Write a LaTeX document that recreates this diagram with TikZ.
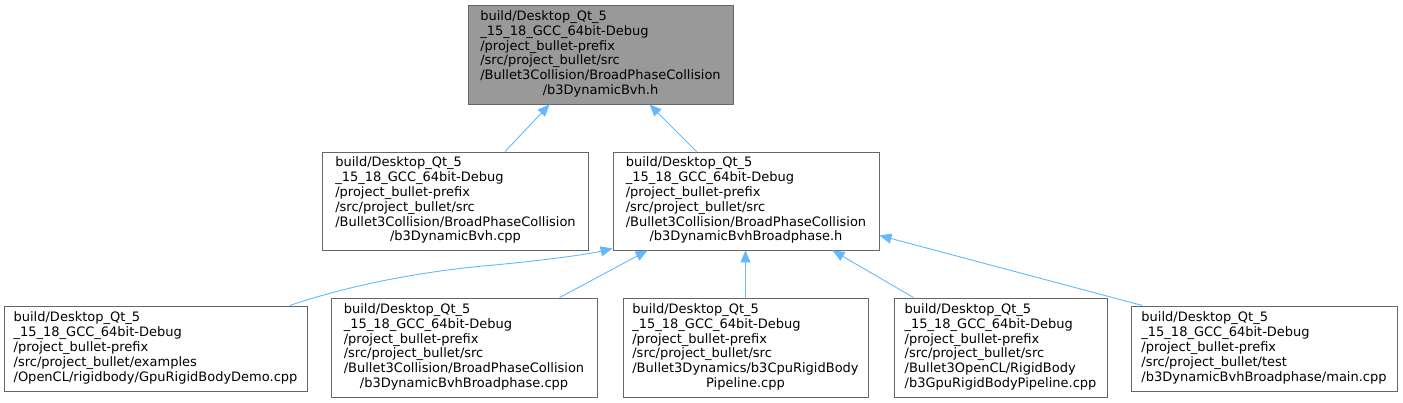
\documentclass[tikz,border=0pt]{standalone}
\usepackage{fontspec}
\usetikzlibrary{arrows.meta,calc}
\newfontfamily\dvsans{DejaVu Sans}
\definecolor{boxgray}{HTML}{666666}
\definecolor{topfill}{HTML}{999999}
\definecolor{edgeblue}{HTML}{63B8FF}
\newcommand{\lastc}[1]{\multicolumn{1}{@{}c@{}}{#1}}
\tikzset{
  box/.style={draw=boxgray, line width=0.9pt, fill=white, inner sep=0pt,
    font=\dvsans\fontsize{13}{14.8}\selectfont, text=black},
  topbox/.style={box, fill=topfill},
  edge/.style={draw=edgeblue, line width=0.9pt, -{Triangle[length=12pt,width=10pt]}}
}
\begin{document}
\begin{tikzpicture}[x=1pt,y=-1pt]
\useasboundingbox (0,0) rectangle (1403,403);
\node[topbox, minimum width=265, minimum height=99] (top) at (600.5,54.5)
 {\begin{tabular}{@{}l@{}}build/Desktop\_Qt\_5\\ \_15\_18\_GCC\_64bit-Debug\\ /project\_bullet-prefix\\ /src/project\_bullet/src\\ /Bullet3Collision/BroadPhaseCollision\\ \lastc{/b3DynamicBvh.h}\end{tabular}};
\node[box, minimum width=266, minimum height=98] (ml) at (455.5,201)
 {\begin{tabular}{@{}l@{}}build/Desktop\_Qt\_5\\ \_15\_18\_GCC\_64bit-Debug\\ /project\_bullet-prefix\\ /src/project\_bullet/src\\ /Bullet3Collision/BroadPhaseCollision\\ \lastc{/b3DynamicBvh.cpp}\end{tabular}};
\node[box, minimum width=266, minimum height=98] (mr) at (746,201)
 {\begin{tabular}{@{}l@{}}build/Desktop\_Qt\_5\\ \_15\_18\_GCC\_64bit-Debug\\ /project\_bullet-prefix\\ /src/project\_bullet/src\\ /Bullet3Collision/BroadPhaseCollision\\ \lastc{/b3DynamicBvhBroadphase.h}\end{tabular}};
\node[box, minimum width=303, minimum height=85] (b1) at (155.5,348.5)
 {\begin{tabular}{@{}l@{}}build/Desktop\_Qt\_5\\ \_15\_18\_GCC\_64bit-Debug\\ /project\_bullet-prefix\\ /src/project\_bullet/examples\\ /OpenCL/rigidbody/GpuRigidBodyDemo.cpp\end{tabular}};
\node[box, minimum width=266, minimum height=99] (b2) at (464,347.5)
 {\begin{tabular}{@{}l@{}}build/Desktop\_Qt\_5\\ \_15\_18\_GCC\_64bit-Debug\\ /project\_bullet-prefix\\ /src/project\_bullet/src\\ /Bullet3Collision/BroadPhaseCollision\\ \lastc{/b3DynamicBvhBroadphase.cpp}\end{tabular}};
\node[box, minimum width=245, minimum height=99] (b3) at (745.5,347.5)
 {\begin{tabular}{@{}l@{}}build/Desktop\_Qt\_5\\ \_15\_18\_GCC\_64bit-Debug\\ /project\_bullet-prefix\\ /src/project\_bullet/src\\ /Bullet3Dynamics/b3CpuRigidBody\\ \lastc{Pipeline.cpp}\end{tabular}};
\node[box, minimum width=213, minimum height=99] (b4) at (1000.5,347.5)
 {\begin{tabular}{@{}l@{}}build/Desktop\_Qt\_5\\ \_15\_18\_GCC\_64bit-Debug\\ /project\_bullet-prefix\\ /src/project\_bullet/src\\ /Bullet3OpenCL/RigidBody\\ /b3GpuRigidBodyPipeline.cpp\end{tabular}};
\node[box, minimum width=266, minimum height=85] (b5) at (1264,348.5)
 {\begin{tabular}{@{}l@{}}build/Desktop\_Qt\_5\\ \_15\_18\_GCC\_64bit-Debug\\ /project\_bullet-prefix\\ /src/project\_bullet/test\\ /b3DynamicBvhBroadphase/main.cpp\end{tabular}};
% edges
\draw[edge] ($(ml.north west)+(183,0)$) -- ($(top.south west)+(82,0)$);
\draw[edge] ($(mr.north west)+(84,0)$) -- ($(top.south west)+(182,0)$);
\draw[edge] ($(b1.north west)+(286,0)$) .. controls (350,285) and (420,272) .. (483,266) .. controls (540,261) and (590,254) .. ($(mr.south west)+(0,-2)$);
\draw[edge] ($(b2.north west)+(229,0)$) -- ($(mr.south west)+(35,0)$);
\draw[edge] (b3.north) -- (b3.north |- mr.south);
\draw[edge] ($(b4.north west)+(20,0)$) -- ($(mr.south west)+(220,0)$);
\draw[edge] ($(b5.north west)+(12,0)$) -- ($(mr.south east)+(0,-15)$);
\end{tikzpicture}
\end{document}
